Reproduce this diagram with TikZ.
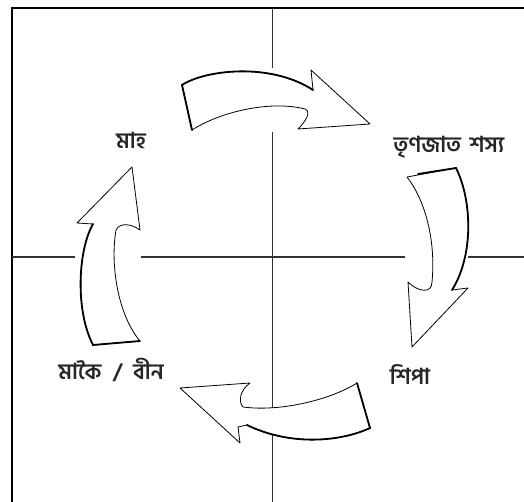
\documentclass[tikz,border=0pt]{standalone}
\usepackage{fontspec}
\newfontfamily\bnfont[Script=Bengali]{Hind Siliguri}
\usetikzlibrary{calc}

\tikzset{
  lbl/.style={font=\bnfont\bfseries\fontsize{22}{26}\selectfont, inner sep=1pt, text=black!85},
  blockarrow/.style={fill=white, draw=black, line width=0.8pt, line join=round},
  heavy/.style={draw=black, line width=1.8pt, line cap=round},
  grid line/.style={draw=black!80, line width=1pt}
}

\begin{document}
\begin{tikzpicture}[x=1pt, y=-1pt]
\useasboundingbox (0,0) rectangle (524,502);
% frame and cross
\draw[line width=1.6pt] (11,8) -- (524,8);
\draw[line width=1.4pt] (12,8) -- (12,502);
\draw[grid line] (272,8) -- (272,68);
\draw[grid line] (272,132) -- (272,502);
\draw[grid line, line width=1.3pt] (12,257) -- (75,257);
\draw[grid line, line width=1.3pt] (141,257) -- (405,257);
\draw[grid line, line width=1.3pt] (468,257) -- (524,257);
% labels
\node[lbl] (mah) at (131,140) {মাহ};
\node[lbl] (trinajat) at (449,147) {তৃণজাত\hspace{0.4em}শস্য};
\node[lbl] (shipa) at (410,375) {শিপা};
\node[lbl] (makoi) at (111,370) {মাকৈ\hspace{0.5em}/\hspace{0.5em}বীন};
% top arrow
\path[blockarrow] (182,85) .. controls (205,70) and (270,62) .. (313,90) -- (311,70) -- (370,124) -- (298,129)
  .. controls (305,122) and (312,112) .. (305,109) .. controls (270,100) and (220,112) .. (192,130) -- cycle;
\draw[heavy] (192,130) -- (182,85) .. controls (205,70) and (270,62) .. (313,90);
% right arrow
\path[blockarrow] (407,177) -- (456,168) .. controls (472,200) and (474,255) .. (452,290) -- (468,288) -- (412,347) -- (408,282)
  .. controls (418,292) and (432,294) .. (432,282) .. controls (436,240) and (425,200) .. (407,177) -- cycle;
\draw[heavy] (418,174) -- (456,168) .. controls (472,200) and (474,255) .. (452,290);
% bottom arrow
\path[blockarrow] (357,383) -- (370,428) .. controls (340,442) and (290,446) .. (247,425) -- (238,427) -- (240,443) -- (180,388) -- (250,383)
  .. controls (240,390) and (238,402) .. (243,407) .. controls (280,412) and (330,400) .. (357,383) -- cycle;
\draw[heavy] (357,383) -- (370,428) .. controls (340,442) and (290,446) .. (247,425);
% left arrow
\path[blockarrow] (93,345) .. controls (75,310) and (78,250) .. (93,224) -- (77,223) -- (132,167) -- (140,230)
  .. controls (132,224) and (120,222) .. (116,230) .. controls (110,265) and (118,315) .. (140,341) -- cycle;
\draw[heavy] (140,341) -- (93,345) .. controls (75,310) and (78,250) .. (93,224);
\end{tikzpicture}
\end{document}
